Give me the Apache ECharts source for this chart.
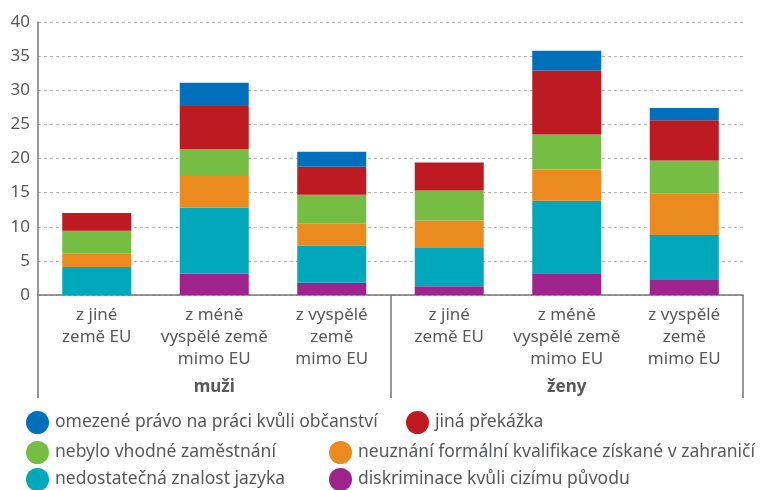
<!DOCTYPE html>
<html>
<head>
<meta charset="utf-8">
<script src="https://cdn.jsdelivr.net/npm/echarts@6/dist/echarts.min.js"></script>
<style>
    html, body { margin: 0; padding: 0; background: #fff; }
    #chart { width: 761px; height: 490px; }
</style>
</head>
<body>
<div id="chart"></div>
<script>
    // kategorie na ose x
    var categories = [
        'z jiné\nzemě EU', 'z méně\nvyspělé země\nmimo EU', 'z vyspělé\nzemě\nmimo EU',
        'z jiné\nzemě EU', 'z méně\nvyspělé země\nmimo EU', 'z vyspělé\nzemě\nmimo EU'
    ];
    var groups = ['muži', 'ženy'];
    var yTicks = [0, 5, 10, 15, 20, 25, 30, 35, 40];

    // hodnoty (zdola nahoru)
    var diskriminace = [0, 3.1, 1.8, 1.3, 3.2, 2.2];
    var jazyk = [4.1, 9.7, 5.4, 5.6, 10.6, 6.6];
    var kvalifikace = [2.0, 4.8, 3.3, 4.0, 4.6, 6.1];
    var zamestnani = [3.3, 3.8, 4.2, 4.4, 5.1, 4.8];
    var jina = [2.6, 6.3, 4.1, 4.1, 9.4, 5.9];
    var pravo = [0, 3.4, 2.2, 0, 2.9, 1.8];

    var names = {
        pravo: 'omezené právo na práci kvůli občanství',
        jina: 'jiná překážka',
        zamestnani: 'nebylo vhodné zaměstnání',
        kvalifikace: 'neuznání formální kvalifikace získané v zahraničí',
        jazyk: 'nedostatečná znalost jazyka',
        diskriminace: 'diskriminace kvůli cizímu původu'
    };

    var font = '"Noto Sans", sans-serif';
    var txt = '#58595b';

    function bar(name, data, color) {
        return {
            name: name,
            type: 'bar',
            stack: 'celkem',
            data: data,
            barWidth: 69,
            itemStyle: { color: color },
            emphasis: { disabled: true }
        };
    }

    function legend(name, left, top) {
        return {
            data: [name],
            left: left,
            top: top,
            icon: 'circle',
            itemWidth: 23,
            itemHeight: 23,
            itemGap: 0,
            padding: 0,
            selectedMode: false,
            textStyle: { fontFamily: font, fontSize: 17.5, color: txt, padding: [0, 0, 0, 1] }
        };
    }

    var chart = echarts.init(document.getElementById('chart'));
    chart.setOption({
        animation: false,
        textStyle: { fontFamily: font },
        grid: { left: 38, right: 18, top: 22, bottom: 195 },
        legend: [
            legend(names.pravo, 26, 411),
            legend(names.jina, 406, 411),
            legend(names.zamestnani, 26, 441),
            legend(names.kvalifikace, 329, 441),
            legend(names.jazyk, 26, 468),
            legend(names.diskriminace, 329, 468)
        ],
        xAxis: [{
            type: 'category',
            data: categories,
            axisLine: { lineStyle: { color: '#777', width: 1.5 } },
            axisTick: { show: false },
            axisLabel: {
                interval: 0,
                margin: 9,
                fontSize: 17,
                lineHeight: 22,
                color: txt,
                fontFamily: font
            }
        }, {
            type: 'category',
            data: groups,
            position: 'bottom',
            axisLine: { show: false },
            axisTick: { show: true, length: 103, lineStyle: { color: '#777', width: 1.5 } },
            axisLabel: {
                margin: 84,
                fontSize: 17,
                fontWeight: 'bold',
                color: txt,
                fontFamily: font
            }
        }],
        yAxis: {
            type: 'value',
            min: yTicks[0],
            max: yTicks[yTicks.length - 1],
            interval: yTicks[1] - yTicks[0],
            axisLine: { show: true, lineStyle: { color: '#777', width: 1.5 } },
            axisTick: { show: false },
            axisLabel: { fontSize: 17, color: txt, margin: 8, fontFamily: font },
            splitLine: { lineStyle: { color: '#b5b5b5', type: [3, 3], width: 1 } }
        },
        series: [
            bar(names.diskriminace, diskriminace, '#9e238c'),
            bar(names.jazyk, jazyk, '#00a8bc'),
            bar(names.kvalifikace, kvalifikace, '#eb8a1e'),
            bar(names.zamestnani, zamestnani, '#76be43'),
            bar(names.jina, jina, '#be1a21'),
            bar(names.pravo, pravo, '#0070ba')
        ]
    });
</script>
</body>
</html>
